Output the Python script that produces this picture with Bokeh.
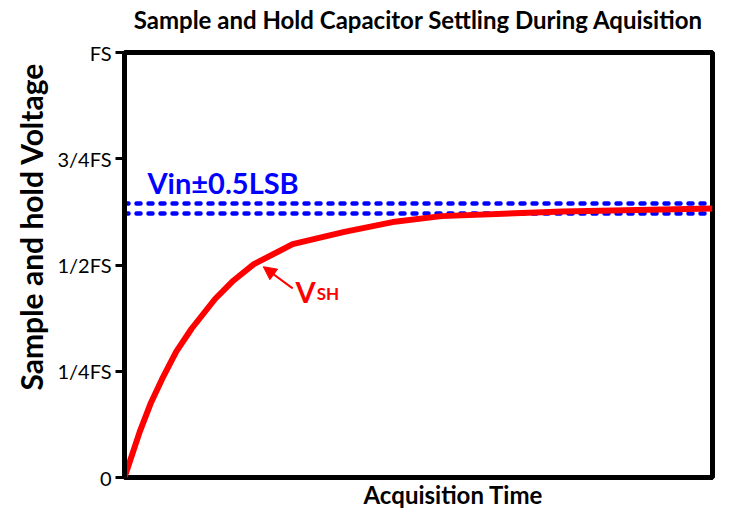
from bokeh.plotting import figure
from bokeh.models import Range1d, FixedTicker, Label, Arrow, NormalHead, Title
from bokeh.embed import file_html
from bokeh.resources import INLINE

# ---- data ----
time = [0.0, 0.26, 0.45, 0.64, 0.88, 1.14, 1.54, 1.85, 2.20, 2.86, 3.74, 4.56, 5.39, 7.45, 10.0]
v_sh = [0.0, 0.108, 0.176, 0.232, 0.296, 0.350, 0.420, 0.463, 0.502, 0.549, 0.578, 0.601, 0.615, 0.626, 0.633]
vin = 0.633
half_lsb = 0.012
y_ticks = [0, 0.25, 0.5, 0.75, 1.0]
y_tick_labels = ["0", "1/4FS", "1/2FS", "3/4FS", "FS"]
title_text = "Sample and Hold Capacitor Settling During Aquisition"
x_label = "Acquisition Time"
y_label = "Sample and hold Voltage"
band_label = "Vin\u00b10.5LSB"

FONT = "Lato"

p = figure(width=715, height=508, output_backend="svg", toolbar_location=None,
           x_range=Range1d(0, 10), y_range=Range1d(0, 1),
           min_border_left=124, min_border_right=3, min_border_top=52, min_border_bottom=31)
p.title.text = title_text
p.title.align = "center"
p.title.vertical_align = "bottom"
p.title.text_font = FONT
p.title.text_font_size = "24px"
p.title.text_font_style = "bold"
p.title.text_color = "black"
p.title.standoff = 0
# empty spacer between the title and the frame
p.add_layout(Title(text=" ", text_font_size="1px", standoff=16), "above")
p.grid.visible = False
p.outline_line_color = "black"
p.outline_line_width = 5
p.outline_line_alpha = 1
p.background_fill_color = "white"
p.border_fill_color = "white"

# y axis
ya = p.yaxis[0]
ya.ticker = FixedTicker(ticks=y_ticks)
ya.major_label_overrides = {t: l for t, l in zip(y_ticks, y_tick_labels)}
ya.major_label_text_font = FONT
ya.major_label_text_font_size = "20px"
ya.major_label_text_color = "black"
ya.major_tick_in = 0
ya.major_tick_out = 9
ya.major_tick_line_width = 3
ya.major_tick_line_color = "black"
ya.minor_tick_line_color = None
ya.axis_line_width = 5
ya.axis_line_color = "black"
ya.major_label_standoff = 4

# x axis: only the frame line, no ticks
p.xaxis.visible = False

# axis titles
p.add_layout(Title(text=y_label, align="left", offset=87, standoff=12,
                   text_font=FONT, text_font_style="bold", text_font_size="30px",
                   text_color="black"), "left")
p.add_layout(Title(text=x_label, align="left", offset=239, standoff=0,
                   text_font=FONT, text_font_style="bold", text_font_size="24px",
                   text_color="black"), "below")

# band lines
for yv in (vin + half_lsb, vin - half_lsb):
    p.line([0, 10], [yv, yv], line_color="#0000FF", line_width=4.5,
           line_dash="4 8", line_cap="round")

# curve
p.line(time, v_sh, line_color="#FF0000", line_width=6, line_join="round")

# labels
p.add_layout(Label(x=0.39, y=0.693, text=band_label, text_color="#0000FF",
                   text_font=FONT, text_font_style="bold", text_font_size="29px",
                   text_baseline="alphabetic"))
p.add_layout(Label(x=2.91, y=0.438, text="V", text_color="#FF0000",
                   text_font=FONT, text_font_style="bold", text_font_size="29px",
                   text_baseline="alphabetic"))
p.add_layout(Label(x=3.27, y=0.434, text="SH", text_color="#FF0000",
                   text_font=FONT, text_font_style="bold", text_font_size="17px",
                   text_baseline="alphabetic"))
p.add_layout(Arrow(x_start=2.86, y_start=0.445, x_end=2.36, y_end=0.496,
                   line_color="#FF0000", line_width=2,
                   end=NormalHead(size=13, fill_color="#FF0000", line_color="#FF0000")))

open("out.html", "w").write(file_html(p, INLINE))
